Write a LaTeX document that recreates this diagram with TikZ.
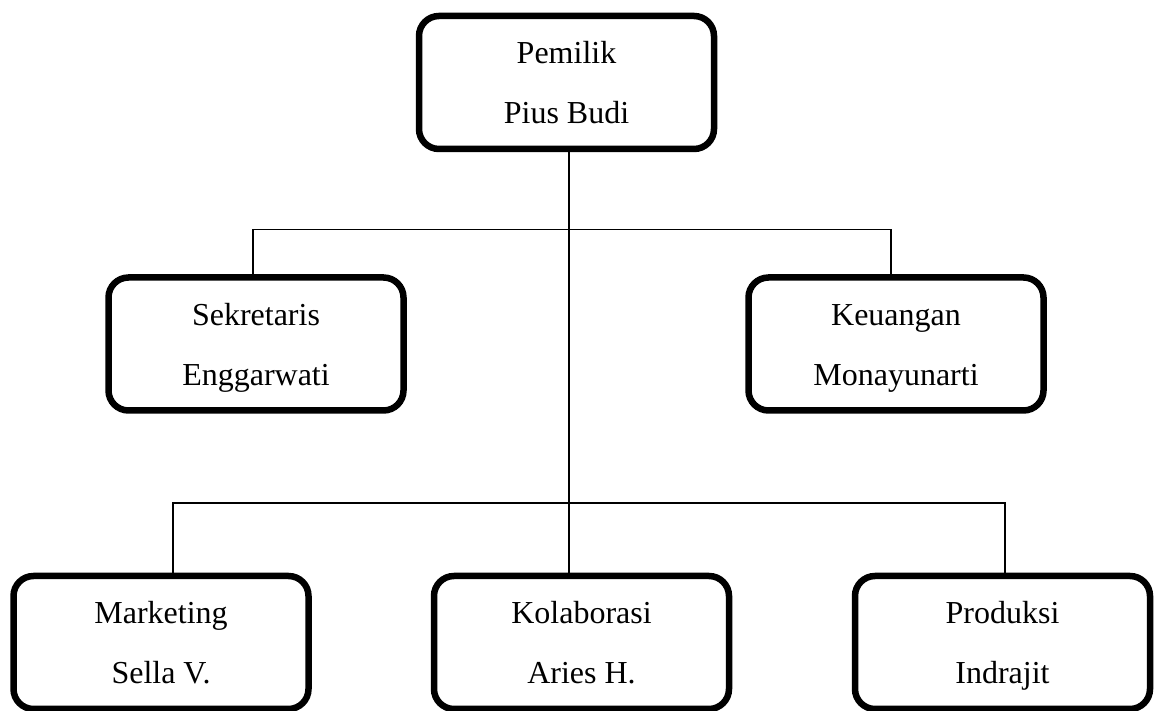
\documentclass[tikz,border=0pt]{standalone}
\usepackage{fontspec}
\setmainfont{Liberation Serif}
\begin{document}
\begin{tikzpicture}[x=1pt,y=1pt,
  orgbox/.style={draw=black, line width=6.5pt, rounded corners=20pt,
    minimum width=295pt, minimum height=133pt, inner sep=0pt,
    align=center, font=\fontsize{32}{60}\selectfont,
    text height=100pt, text depth=17pt},
  conn/.style={draw=black, line width=1.8pt}]
\useasboundingbox (0,0) rectangle (1154,711);
% boxes (y measured from bottom)
\node[orgbox] (top)  at (566.5, 628.5) {Pemilik\\Pius Budi};
\node[orgbox] (sek)  at (256, 367) {Sekretaris\\Enggarwati};
\node[orgbox] (keu)  at (896, 367) {Keuangan\\Monayunarti};
\node[orgbox] (mkt)  at (161, 68.5) {Marketing\\Sella V.};
\node[orgbox] (kol)  at (581.5, 68.5) {Kolaborasi\\Aries H.};
\node[orgbox] (prod) at (1002.5, 68.5) {Produksi\\Indrajit};
% connector guide coordinates
\coordinate (xt) at (569,0);
\coordinate (xs) at (253,0);
\coordinate (xk) at (891,0);
\coordinate (xm) at (173,0);
\coordinate (xp) at (1005,0);
\coordinate (ya) at (0,481.5);
\coordinate (yb) at (0,208);
% connectors
\draw[conn] (top.south -| xt) -- (kol.north -| xt);
\draw[conn] (sek.north -| xs) -- (xs |- ya) -- (xk |- ya) -- (keu.north -| xk);
\draw[conn] (mkt.north -| xm) -- (xm |- yb) -- (xp |- yb) -- (prod.north -| xp);
\end{tikzpicture}
\end{document}
